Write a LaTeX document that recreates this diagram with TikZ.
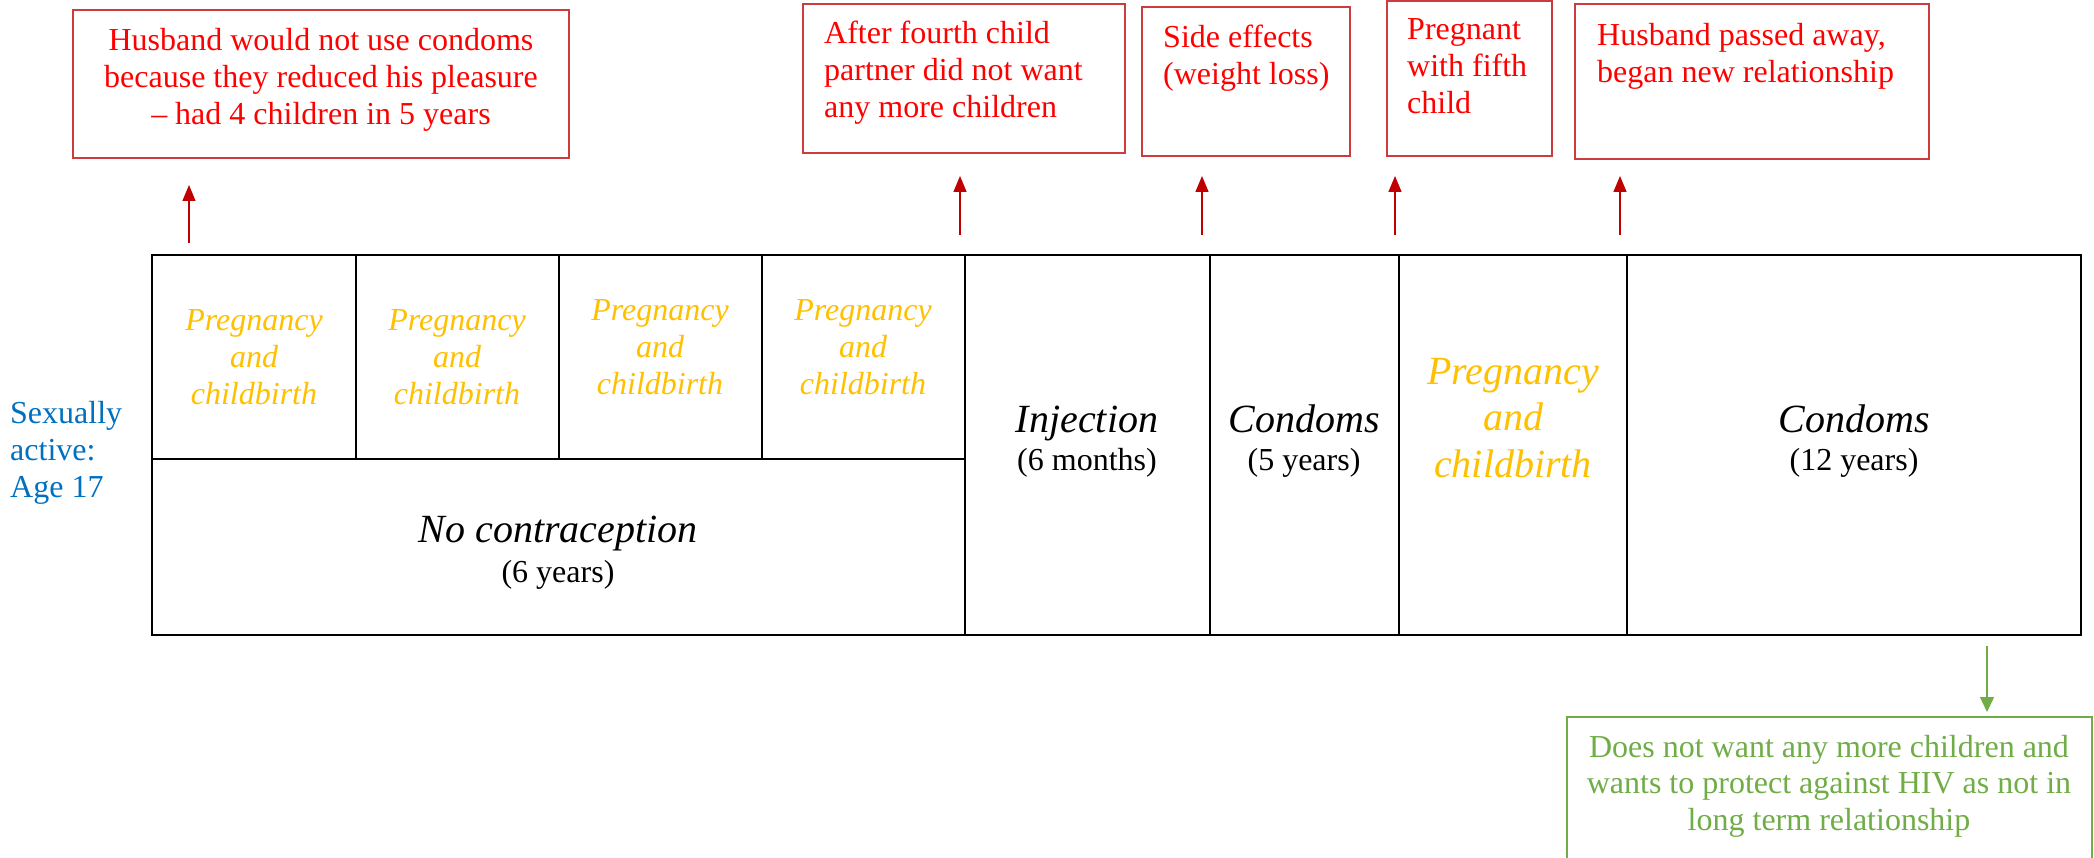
\documentclass[tikz,border=0pt]{standalone}
\usepackage{fontspec}
\setmainfont{Liberation Serif}
\usetikzlibrary{arrows.meta}
\definecolor{notered}{RGB}{255,0,0}
\definecolor{noteframe}{RGB}{205,60,60}
\definecolor{eventarrow}{RGB}{192,0,0}
\definecolor{birthgold}{RGB}{255,192,0}
\definecolor{agecolor}{RGB}{0,112,192}
\definecolor{outcomegreen}{RGB}{112,173,71}
\begin{document}
\begin{tikzpicture}[x=1pt,y=-1pt,
  notebox/.style={draw=noteframe,line width=1.5pt,inner sep=0pt,outer sep=0pt,anchor=north west},
  notetext/.style={text=notered,font=\fontsize{32}{37}\selectfont,inner sep=0pt,align=left,anchor=base west},
  cell/.style={draw=black,line width=1.8pt,inner sep=0pt,outer sep=0pt,anchor=north west},
  frame/.style={draw=black,line width=2.8pt,inner sep=0pt,outer sep=0pt,anchor=north west},
  birth/.style={text=birthgold,font=\itshape\fontsize{32}{37}\selectfont,inner sep=0pt,align=center,anchor=base},
  bigbirth/.style={text=birthgold,font=\itshape\fontsize{40}{46.5}\selectfont,inner sep=0pt,align=center,anchor=base},
  method/.style={font=\itshape\fontsize{40}{46}\selectfont,inner sep=0pt,anchor=base},
  duration/.style={font=\fontsize{32}{37}\selectfont,inner sep=0pt,anchor=base},
  eventarr/.style={draw=eventarrow,line width=1.4pt,-{Triangle[length=16pt,width=13pt]}},
  outcomearr/.style={draw=outcomegreen,line width=1.4pt,-{Triangle[length=15pt,width=14pt]}}
]
\useasboundingbox (0,0) rectangle (2094,858);
\clip (0,0) rectangle (2094,858);
\fill[white] (0,0) rectangle (2094,858);

% event notes above the timeline (multi-line texts are placed by their last baseline)
\node[notebox,minimum width=496pt,minimum height=148pt] (n1) at (73,10) {};
\node[notetext,align=center,anchor=base] (t1) at (321,125)
  {Husband would not use condoms\\because they reduced his pleasure\\– had 4 children in 5 years};
\node[notebox,minimum width=322pt,minimum height=149pt] (n2) at (803,4) {};
\node[notetext] (t2) at (824,118) {After fourth child\\partner did not want\\any more children};
\node[notebox,minimum width=208pt,minimum height=149pt] (n3) at (1142,7) {};
\node[notetext] (t3) at (1163,85) {Side effects\\(weight loss)};
\node[notebox,minimum width=165pt,minimum height=155pt] (n4) at (1387,1) {};
\node[notetext] (t4) at (1407,114) {Pregnant\\with fifth\\child};
\node[notebox,minimum width=354pt,minimum height=155pt] (n5) at (1575,4) {};
\node[notetext] (t5) at (1597,83) {Husband passed away,\\began new relationship};

% arrows pointing to the notes
\coordinate (a1s) at (189,243); \coordinate (a1e) at (189,185);
\coordinate (a2s) at (960,235); \coordinate (a2e) at (960,176);
\coordinate (a3s) at (1202,235); \coordinate (a3e) at (1202,176);
\coordinate (a4s) at (1395,235); \coordinate (a4e) at (1395,176);
\coordinate (a5s) at (1620,235); \coordinate (a5e) at (1620,176);
\draw[eventarr] (a1s) -- (a1e);
\draw[eventarr] (a2s) -- (a2e);
\draw[eventarr] (a3s) -- (a3e);
\draw[eventarr] (a4s) -- (a4e);
\draw[eventarr] (a5s) -- (a5e);

% start of the timeline
\node[text=agecolor,font=\fontsize{32}{37}\selectfont,inner sep=0pt,align=left,anchor=base west]
  (age) at (10,497) {Sexually\\active:\\Age 17};

% timeline cells
\node[cell,minimum width=204pt,minimum height=204pt] (c1) at (152,255) {};
\node[cell,minimum width=203pt,minimum height=204pt] (c2) at (356,255) {};
\node[cell,minimum width=203pt,minimum height=204pt] (c3) at (559,255) {};
\node[cell,minimum width=203pt,minimum height=204pt] (c4) at (762,255) {};
\node[cell,minimum width=813pt,minimum height=176pt] (none) at (152,459) {};
\node[cell,minimum width=245pt,minimum height=380pt] (inj) at (965,255) {};
\node[cell,minimum width=189pt,minimum height=380pt] (cd1) at (1210,255) {};
\node[cell,minimum width=228pt,minimum height=380pt] (p5) at (1399,255) {};
\node[cell,minimum width=454pt,minimum height=380pt] (cd2) at (1627,255) {};
\node[frame,minimum width=1929pt,minimum height=380pt] (tl) at (152,255) {};

% cell labels
\node[birth] (b1) at (254,405) {Pregnancy\\and\\childbirth};
\node[birth] (b2) at (457,405) {Pregnancy\\and\\childbirth};
\node[birth] (b3) at (660,395) {Pregnancy\\and\\childbirth};
\node[birth] (b4) at (863,395) {Pregnancy\\and\\childbirth};
\node[method] (nonel) at (558,542) {No contraception};
\node[duration] (noned) at (558,582) {(6 years)};
\node[method] (injl) at (1087,432) {Injection};
\node[duration] (injd) at (1087,470) {(6 months)};
\node[method] (cd1l) at (1304,432) {Condoms};
\node[duration] (cd1d) at (1304,470) {(5 years)};
\node[bigbirth] (b5) at (1513,477) {Pregnancy\\and\\childbirth};
\node[method] (cd2l) at (1854,432) {Condoms};
\node[duration] (cd2d) at (1854,470) {(12 years)};

% outcome
\coordinate (gs) at (1987,646); \coordinate (ge) at (1987,712);
\draw[outcomearr] (gs) -- (ge);
\node[draw=outcomegreen,line width=1.5pt,inner sep=0pt,anchor=north west,
  minimum width=525pt,minimum height=200pt] (out) at (1566,716) {};
\node[text=outcomegreen,font=\fontsize{32}{36.5}\selectfont,inner sep=0pt,align=center,anchor=base]
  (outt) at (1829,830) {Does not want any more children and\\wants to protect against HIV as not in\\long term relationship};
\end{tikzpicture}
\end{document}
